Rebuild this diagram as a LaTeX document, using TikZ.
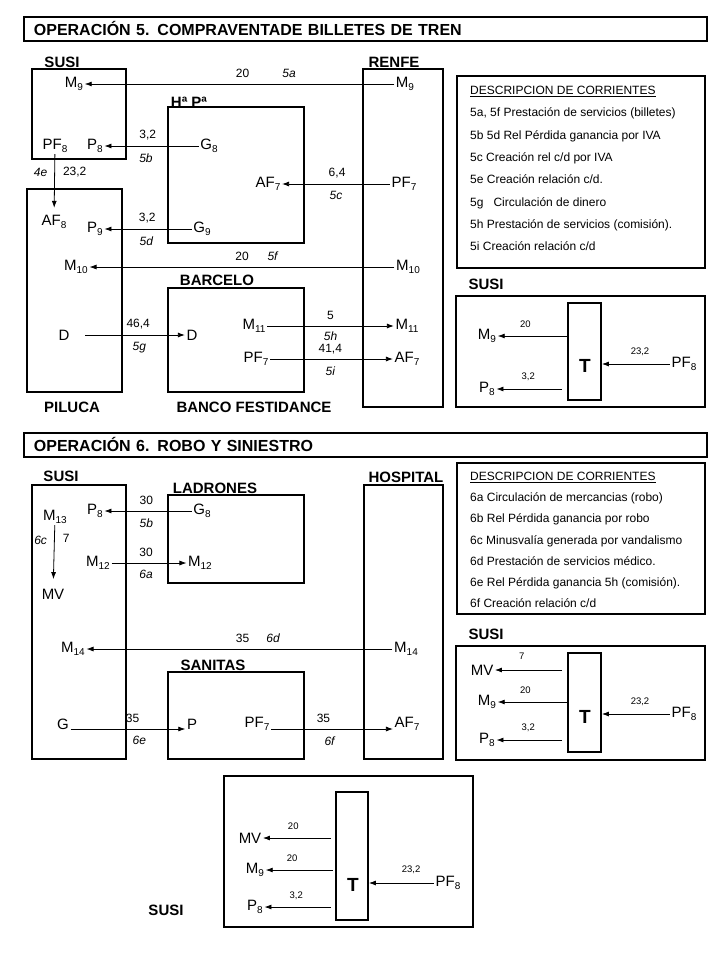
\documentclass[tikz,border=0pt]{standalone}
\usepackage{fontspec}
\setmainfont{Liberation Sans}
\usetikzlibrary{arrows.meta,positioning}

\newcommand{\sbi}[1]{\raisebox{-2.5pt}{\fontsize{10}{10}\selectfont #1}}

\tikzset{
  caja/.style={draw, line width=1.8pt},
  titulo/.style={caja, anchor=north west, inner xsep=10pt, inner ysep=0pt, align=left,
    font=\fontsize{16}{18}\bfseries\selectfont},
  ent/.style={font=\fontsize{15}{17}\bfseries\selectfont, inner sep=0pt},
  cta/.style={font=\fontsize{15}{17}\selectfont, inner sep=1.5pt},
  cifra/.style={font=\fontsize{12}{13}\selectfont, inner sep=2pt},
  cod/.style={font=\fontsize{12}{13}\itshape\selectfont, inner sep=2pt},
  mini/.style={font=\fontsize{9.5}{11}\selectfont, inner sep=2pt},
  flujo/.style={->, line width=0.8pt},
  tcaja/.style={draw, line width=1.8pt, minimum width=33pt, inner sep=0pt},
  tletra/.style={font=\fontsize{19}{21}\bfseries\selectfont, inner sep=0pt},
  leyenda/.style={anchor=north west, align=left, inner sep=0pt}
}

\begin{document}
\begin{tikzpicture}[x=1pt, y=-1pt, >={Latex[length=7pt,width=5pt]}]
  \useasboundingbox (0,0) rectangle (720,960);

  % Operacion 5
  \node[titulo, minimum width=683pt, minimum height=24pt, text width=663pt] (op5) at (23,16)
    {OPERACIÓN 5. COMPRAVENTADE BILLETES DE TREN};

  % cajas de los agentes
  \draw[caja] (32,69) rectangle (126,159);
  \draw[caja] (168,107) rectangle (304,243);
  \draw[caja] (27,189) rectangle (122,392);
  \draw[caja] (168,288) rectangle (304,392);
  \draw[caja] (363,69) rectangle (443,407);
  \node[ent] (susi5) at (62,62) {SUSI};
  \node[ent] (hapa) at (189,102) {Hª Pª};
  \node[ent] (renfe) at (394,62) {RENFE};
  \node[ent] (barcelo) at (217,280) {BARCELO};
  \node[ent] (piluca) at (72,407) {PILUCA};
  \node[ent] (banco) at (254,407) {BANCO FESTIDANCE};

  % cuentas
  \node[cta] (s1M9) at (74,84) {M\sbi{9}};
  \node[cta] (rM9) at (405,84) {M\sbi{9}};
  \node[cta] (s1PF8) at (55,146) {PF\sbi{8}};
  \node[cta] (s1P8) at (95,146) {P\sbi{8}};
  \node[cta] (hG8) at (209,146) {G\sbi{8}};
  \node[cta] (hAF7) at (268,184) {AF\sbi{7}};
  \node[cta] (rPF7) at (404,184) {PF\sbi{7}};
  \node[cta] (pAF8) at (54,222) {AF\sbi{8}};
  \node[cta] (pP9) at (95,229) {P\sbi{9}};
  \node[cta] (hG9) at (202,229) {G\sbi{9}};
  \node[cta] (pM10) at (76,267) {M\sbi{10}};
  \node[cta] (rM10) at (408,267) {M\sbi{10}};
  \node[cta] (pD) at (64,335) {D};
  \node[cta] (bD) at (192,335) {D};
  \node[cta] (bM11) at (254,326) {M\sbi{11}};
  \node[cta] (rM11) at (407,326) {M\sbi{11}};
  \node[cta] (bPF7) at (256,359) {PF\sbi{7}};
  \node[cta] (rAF7) at (407,359) {AF\sbi{7}};

  % corrientes
  \draw[flujo] (rM9) -- node[cifra, above=4pt, pos=.49] {20} node[cod, above=4pt, pos=.34] {5a} (s1M9);
  \draw[flujo] (hG8) -- node[cifra, above=4pt, pos=.54] {3,2} node[cod, below=5pt, pos=.56] {5b} (s1P8);
  \draw[flujo, shorten >=6pt] (s1PF8) -- node[cod, left=5pt, pos=.3] {4e} node[cifra, right=6pt, pos=.3] {23,2} (pAF8);
  \draw[flujo] (rPF7) -- node[cifra, above=4pt, pos=.49] {6,4} node[cod, below=5pt, pos=.5] {5c} (hAF7);
  \draw[flujo] (hG9) -- node[cifra, above=4pt, pos=.51] {3,2} node[cod, below=5pt, pos=.52] {5d} (pP9);
  \draw[flujo] (rM10) -- node[cifra, above=4pt, pos=.5] {20} node[cod, above=4pt, pos=.4] {5f} (pM10);
  \draw[flujo, shorten <=14pt] (pD) -- node[cifra, above=4pt, pos=.59] {46,4} node[cod, below=5pt, pos=.6] {5g} (bD);
  \draw[flujo] (bM11) -- node[cifra, above=4pt] {5} node[cod, below=3pt] {5h} (rM11);
  \draw[flujo] (bPF7) -- node[cifra, above=3pt, pos=.49] {41,4} node[cod, below=5pt, pos=.49] {5i} (rAF7);

  % descripcion 5
  \draw[caja] (457,76) rectangle (705,268);
  \node[leyenda, font=\fontsize{12}{22.3}\selectfont] (desc5) at (470,86) {%
    \underline{DESCRIPCION DE CORRIENTES}\\
    5a, 5f Prestación de servicios (billetes)\\
    5b 5d Rel Pérdida ganancia  por IVA\\
    5c Creación rel c/d por IVA\\
    5e Creación relación c/d.\\
    5g \ \ Circulación de dinero\\
    5h Prestación de servicios (comisión).\\
    5i Creación relación c/d};

  % T de Susi (5)
  \node[ent] (susiT5) at (486,284) {SUSI};
  \draw[caja] (456,296) rectangle (705,407);
  \node[tcaja, minimum height=97pt] (t1) at (584.5,351.5) {};
  \node[tletra] (t1T) at (585,366) {T};
  \node[cta] (t1M9) at (487,336) {M\sbi{9}};
  \node[cta] (t1P8) at (487,389) {P\sbi{8}};
  \node[cta] (t1PF8) at (684,364) {PF\sbi{8}};
  \draw[flujo] (t1.west |- t1M9) -- node[mini, above=6pt, pos=.6] {20} (t1M9);
  \draw[flujo, shorten <=5pt] (t1.west |- t1P8) -- node[mini, above=6pt, pos=.55] {3,2} (t1P8);
  \draw[flujo] (t1PF8) -- node[mini, above=6pt, pos=.44] {23,2} (t1.east |- t1PF8);

  % Operacion 6
  \node[titulo, minimum width=683pt, minimum height=24pt, text width=663pt] (op6) at (23,432)
    {OPERACIÓN 6. ROBO Y SINIESTRO};

  \draw[caja] (32,485) rectangle (126,759);
  \draw[caja] (168,495) rectangle (304,583);
  \draw[caja] (364,485) rectangle (443,759);
  \draw[caja] (168,672) rectangle (304,759);
  \node[ent] (susi6) at (61,476) {SUSI};
  \node[ent] (ladrones) at (215,488) {LADRONES};
  \node[ent] (hospital) at (406,477) {HOSPITAL};
  \node[ent] (sanitas) at (213,665) {SANITAS};

  \node[cta] (s2M13) at (55,517) {M\sbi{13}};
  \node[cta] (s2P8) at (95,511) {P\sbi{8}};
  \node[cta] (lG8) at (202,511) {G\sbi{8}};
  \node[cta] (s2MV) at (53,594) {MV};
  \node[cta] (s2M12) at (98,563) {M\sbi{12}};
  \node[cta] (lM12) at (200,563) {M\sbi{12}};
  \node[cta] (s2M14) at (73,649) {M\sbi{14}};
  \node[cta] (hM14) at (406,649) {M\sbi{14}};
  \node[cta] (s2G) at (63,724) {G};
  \node[cta] (sP) at (192,724) {P};
  \node[cta] (sPF7) at (257,724) {PF\sbi{7}};
  \node[cta] (hAF7b) at (407,724) {AF\sbi{7}};

  \draw[flujo] (lG8) -- node[cifra, above=4pt, pos=.52] {30} node[cod, below=5pt, pos=.52] {5b} (s2P8);
  \draw[flujo, shorten >=8pt] (s2M13) -- node[cod, left=5pt, pos=.25] {6c} node[cifra, right=6pt, pos=.22] {7} (s2MV);
  \draw[flujo] (s2M12) -- node[cifra, above=4pt, pos=.46] {30} node[cod, below=5pt, pos=.46] {6a} (lM12);
  \draw[flujo] (hM14) -- node[cifra, above=4pt, pos=.49] {35} node[cod, above=4pt, pos=.39] {6d} (s2M14);
  \draw[flujo] ([yshift=-5pt]s2G.east) -- node[cifra, above=4pt, pos=.54] {35} node[cod, below=5pt, pos=.6] {6e} ([yshift=-5pt]sP.west);
  \draw[flujo] ([yshift=-5pt]sPF7.east) -- node[cifra, above=4pt, pos=.43] {35} node[cod, below=5pt, pos=.48] {6f} ([yshift=-5pt]hAF7b.west);

  % descripcion 6
  \draw[caja] (457,463) rectangle (705,614);
  \node[leyenda, font=\fontsize{12}{21.2}\selectfont] (desc6) at (470,472) {%
    \underline{DESCRIPCION DE CORRIENTES}\\
    6a Circulación de mercancias (robo)\\
    6b Rel Pérdida ganancia  por robo\\
    6c Minusvalía generada por vandalismo\\
    6d Prestación de servicios  médico.\\
    6e Rel Pérdida ganancia 5h (comisión).\\
    6f Creación relación c/d};

  % T de Susi (6)
  \node[ent] (susiT6) at (486,634) {SUSI};
  \draw[caja] (456,646) rectangle (705,760);
  \node[tcaja, minimum height=99pt] (t2) at (584.5,702.5) {};
  \node[tletra] (t2T) at (585,717) {T};
  \node[cta] (t2MV) at (482,670) {MV};
  \node[cta] (t2M9) at (487,702) {M\sbi{9}};
  \node[cta] (t2P8) at (487,740) {P\sbi{8}};
  \node[cta] (t2PF8) at (684,714) {PF\sbi{8}};
  \draw[flujo, shorten <=5pt] (t2.west |- t2MV) -- node[mini, above=8pt, pos=.63] {7} (t2MV);
  \draw[flujo] (t2.west |- t2M9) -- node[mini, above=6pt, pos=.6] {20} (t2M9);
  \draw[flujo, shorten <=5pt] (t2.west |- t2P8) -- node[mini, above=6pt, pos=.55] {3,2} (t2P8);
  \draw[flujo] (t2PF8) -- node[mini, above=6pt, pos=.44] {23,2} (t2.east |- t2PF8);

  % T de Susi (final)
  \draw[caja] (224,776) rectangle (473,927);
  \node[ent] (susiT7) at (166,910) {SUSI};
  \node[tcaja, minimum width=32pt, minimum height=128pt] (t3) at (352,856) {};
  \node[tletra] (t3T) at (353,885) {T};
  \node[cta] (t3MV) at (250,838) {MV};
  \node[cta] (t3M9) at (255,870) {M\sbi{9}};
  \node[cta] (t3P8) at (255,907) {P\sbi{8}};
  \node[cta] (t3PF8) at (448,883) {PF\sbi{8}};
  \draw[flujo, shorten <=4pt] (t3.west |- t3MV) -- node[mini, above=6pt, pos=.58] {20} (t3MV);
  \draw[flujo, shorten <=2pt] (t3.west |- t3M9) -- node[mini, above=6pt, pos=.62] {20} (t3M9);
  \draw[flujo, shorten <=4pt] (t3.west |- t3P8) -- node[mini, above=5pt, pos=.55] {3,2} (t3P8);
  \draw[flujo] (t3PF8) -- node[mini, above=7pt, pos=.35] {23,2} (t3.east |- t3PF8);
\end{tikzpicture}
\end{document}
